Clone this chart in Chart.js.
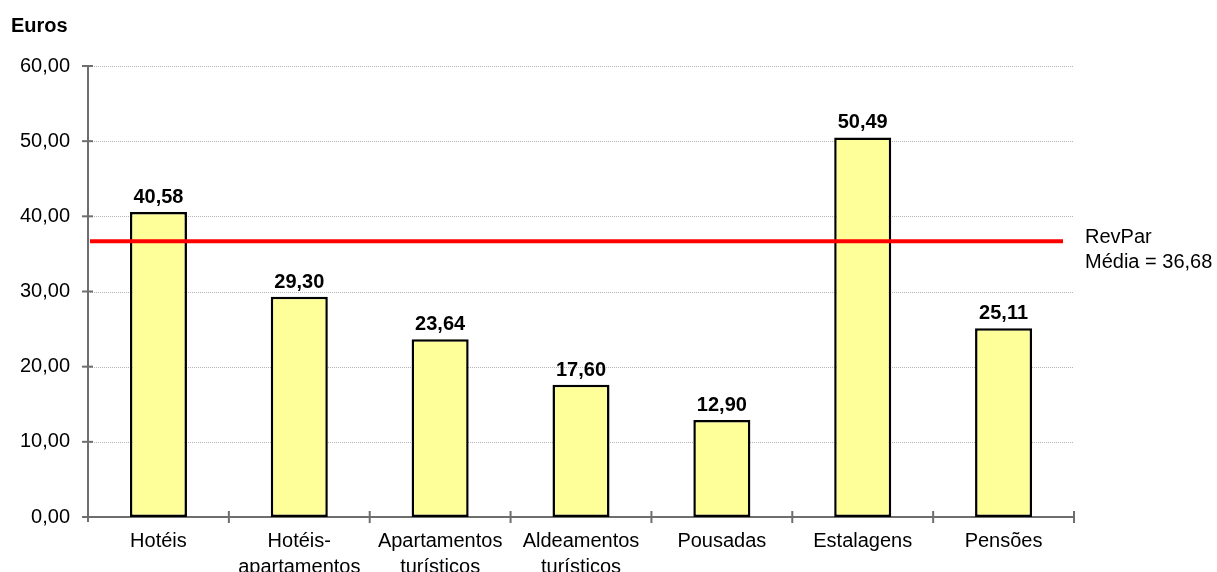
<!DOCTYPE html>
<html>
<head>
<meta charset="utf-8">
<script src="https://cdn.jsdelivr.net/npm/chart.js@4/dist/chart.umd.min.js"></script>
<style>
  html, body { margin: 0; padding: 0; background: #ffffff; }
  #wrap { width: 1217px; height: 572px; position: relative; }
</style>
</head>
<body>
<div id="wrap"><canvas id="c" width="1217" height="572"></canvas></div>
<script>
// RevPar por tipologia de estabelecimento (euros)
const categories = [
  'Hotéis',
  ['Hotéis-', 'apartamentos'],
  ['Apartamentos', 'turísticos'],
  ['Aldeamentos', 'turísticos'],
  'Pousadas',
  'Estalagens',
  'Pensões'
];
const revpar = [40.58, 29.30, 23.64, 17.60, 12.90, 50.49, 25.11];
const revparMedia = 36.68;
const yMin = 0;
const yMax = 60;
const yStep = 10;
const unitLabel = 'Euros';
const mediaLines = ['RevPar', 'Média = 36,68'];

const FONT = '"Liberation Sans", Arial, Helvetica, sans-serif';
const fmt = v => v.toFixed(2).replace('.', ',');

Chart.defaults.font.family = FONT;
Chart.defaults.color = '#000000';

// Axis lines, crossing tick marks and dotted horizontal grid
const axesPlugin = {
  id: 'axesPlugin',
  beforeDatasetsDraw(chart) {
    const { ctx, chartArea: a, scales: { x, y } } = chart;
    ctx.save();
    // dotted grid
    ctx.strokeStyle = '#b4b4b4';
    ctx.lineWidth = 1;
    ctx.setLineDash([1, 1]);
    y.ticks.forEach(t => {
      if (t.value === yMin) return;
      const py = Math.round(y.getPixelForValue(t.value)) + 0.5;
      ctx.beginPath();
      ctx.moveTo(a.left + 2, py);
      ctx.lineTo(a.right, py);
      ctx.stroke();
    });
    ctx.setLineDash([]);

    ctx.strokeStyle = '#6e6e6e';
    ctx.lineWidth = 2;
    const y0 = y.getPixelForValue(yMin);
    // y axis
    ctx.beginPath();
    ctx.moveTo(a.left, a.top);
    ctx.lineTo(a.left, y0 + 5);
    ctx.stroke();
    // y ticks
    y.ticks.forEach(t => {
      const py = y.getPixelForValue(t.value);
      ctx.beginPath();
      ctx.moveTo(a.left - 6, py);
      ctx.lineTo(a.left + 5, py);
      ctx.stroke();
    });
    // x axis
    ctx.beginPath();
    ctx.moveTo(a.left - 6, y0);
    ctx.lineTo(a.right, y0);
    ctx.stroke();
    // x ticks at category boundaries
    const n = categories.length;
    const w = (a.right - a.left) / n;
    for (let i = 1; i <= n; i++) {
      const px = a.left + i * w;
      ctx.beginPath();
      ctx.moveTo(px, y0 - 6);
      ctx.lineTo(px, y0 + 6);
      ctx.stroke();
    }
    ctx.restore();
  }
};

// Average line, its caption, value labels and unit title
const overlayPlugin = {
  id: 'overlayPlugin',
  afterDatasetsDraw(chart) {
    const { ctx, chartArea: a, scales: { y } } = chart;
    ctx.save();
    // average line
    const py = y.getPixelForValue(revparMedia);
    ctx.strokeStyle = '#ff0000';
    ctx.lineWidth = 4;
    ctx.beginPath();
    ctx.moveTo(a.left + 2, py);
    ctx.lineTo(a.right - 11, py);
    ctx.stroke();

    ctx.fillStyle = '#000000';
    ctx.textAlign = 'left';
    ctx.textBaseline = 'alphabetic';
    ctx.font = '20px ' + FONT;
    ctx.fillText(mediaLines[0], a.right + 11, 243);
    ctx.fillText(mediaLines[1], a.right + 11, 268);

    // value labels
    ctx.font = 'bold 20px ' + FONT;
    ctx.textAlign = 'center';
    const meta = chart.getDatasetMeta(0);
    meta.data.forEach((bar, i) => {
      ctx.fillText(fmt(revpar[i]), bar.x, bar.y - 9);
    });

    // unit title
    ctx.textAlign = 'left';
    ctx.fillText(unitLabel, 11, 32);
    ctx.restore();
  }
};

new Chart(document.getElementById('c'), {
  type: 'bar',
  data: {
    labels: categories,
    datasets: [{
      data: revpar,
      backgroundColor: '#ffff99',
      borderColor: '#000000',
      borderWidth: 2.5,
      borderSkipped: false,
      categoryPercentage: 1,
      barPercentage: 0.405
    }]
  },
  options: {
    responsive: false,
    animation: false,
    devicePixelRatio: 1,
    layout: { padding: { top: 66, right: 143, left: 0, bottom: 0 } },
    plugins: {
      legend: { display: false },
      tooltip: { enabled: false },
      title: { display: false }
    },
    scales: {
      x: {
        grid: { display: false, drawTicks: false },
        border: { display: false },
        ticks: {
          font: { size: 20, lineHeight: 1.3 },
          color: '#000000',
          padding: 11,
          maxRotation: 0,
          autoSkip: false
        },
        afterFit: s => { s.height = 55; }
      },
      y: {
        min: yMin,
        max: yMax,
        grid: { display: false, drawTicks: false },
        border: { display: false },
        ticks: {
          stepSize: yStep,
          font: { size: 20 },
          color: '#000000',
          padding: 18,
          callback: v => fmt(v)
        },
        afterFit: s => { s.width = 88; }
      }
    }
  },
  plugins: [axesPlugin, overlayPlugin]
});
</script>
</body>
</html>
